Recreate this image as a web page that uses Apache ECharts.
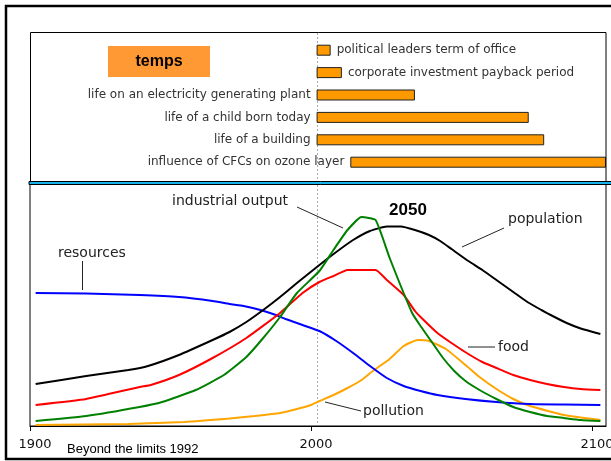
<!DOCTYPE html>
<html>
<head>
<meta charset="utf-8">
<script src="https://cdn.jsdelivr.net/npm/echarts@6/dist/echarts.min.js"></script>
<style>
html, body { margin: 0; padding: 0; background: #fff; }
#main { width: 611px; height: 461px; }
</style>
</head>
<body>
<div id="main"></div>
<script>
// top panel: time horizons (start year, length in years)
var horizonNames = ['political leaders term of office', 'corporate investment payback period',
    'life on an electricity generating plant', 'life of a child born today',
    'life of a building', 'influence of CFCs on ozone layer'];
var horizonStart = [2002, 2002, 2002, 2002, 2002, 2014];
var horizonLength = [5, 9, 35, 75.5, 81, 91];
var horizonLabelSide = ['right', 'right', 'left', 'left', 'left', 'left'];

var todayYear = 2002;
var yearTicks = [1900, 2000, 2100];

// bottom panel: [year, level]
var population = [[1902, 42], [1920, 50], [1935, 56], [1942, 60], [1953, 71], [1965, 86], [1971, 94],
    [1977, 104], [1983, 116], [1989, 129], [1995, 143], [2003, 161], [2009, 174], [2015, 186],
    [2021, 195], [2027, 199.5], [2032, 199.5], [2037, 196], [2042, 191], [2046, 185], [2050, 177],
    [2056, 165], [2061, 156], [2066, 146], [2072, 134], [2077, 124], [2082, 116], [2086, 110],
    [2091, 103], [2096, 97.5], [2103, 92]];
var food = [[1902, 21], [1920, 27], [1939, 39], [1943, 41], [1953, 51], [1965, 68], [1977, 88],
    [1989, 113], [1997, 133], [2003, 144], [2008, 150], [2013, 156], [2023, 156], [2027, 146],
    [2033, 131], [2037, 115], [2039, 109], [2045, 93], [2050, 83], [2056, 72], [2061, 64],
    [2066, 58], [2072, 51], [2078, 46], [2084, 42], [2090, 39], [2096, 37], [2103, 36]];
var industrialOutput = [[1902, 5], [1920, 10], [1939, 19], [1947, 24], [1959, 36], [1969, 51],
    [1977, 69], [1983, 88], [1989, 109], [1995, 133], [2003, 155], [2008, 176], [2013, 196],
    [2018, 209], [2023, 206], [2028, 168], [2036, 113], [2039, 100], [2043, 84], [2047, 68],
    [2051, 55], [2055, 45], [2060, 36], [2066, 27], [2072, 19], [2078, 14], [2084, 10],
    [2090, 8], [2096, 6], [2103, 5]];
var resources = [[1902, 133], [1920, 132.5], [1939, 131], [1953, 129], [1965, 125], [1971, 122],
    [1976, 120], [1982, 116], [1987, 111.5], [1991, 107], [1997, 101], [2003, 95], [2009, 85],
    [2015, 73], [2021, 60], [2027, 48], [2033, 40], [2039, 35], [2045, 31], [2055, 27],
    [2066, 24], [2078, 22], [2090, 21.5], [2103, 21]];
var pollution = [[1902, 1], [1935, 2], [1955, 4], [1971, 7.5], [1980, 10], [1989, 13], [1995, 17],
    [2000, 21], [2003, 25], [2008, 31], [2013, 38], [2018, 46], [2022, 55], [2028, 67],
    [2033, 80], [2038, 86], [2042, 85], [2048, 77], [2055, 61], [2060, 49], [2066, 37],
    [2072, 27], [2078, 20], [2090, 11], [2103, 6]];

// callouts: text position and leader line
var notes = [
    { text: 'resources', x: 58, y: 253, line: [82.5, 261, 82.5, 290] },
    { text: 'industrial output', x: 172, y: 201, line: [297, 207, 343, 228] },
    { text: 'population', x: 508, y: 219, line: [504, 228, 462, 247] },
    { text: 'food', x: 498, y: 347, line: [468, 347, 495, 347] },
    { text: 'pollution', x: 363, y: 411, line: [325, 402, 361, 411] }
];

var chart = echarts.init(document.getElementById('main'));

function lineSeries(name, data, color) {
    return {
        name: name, type: 'line', xAxisIndex: 1, yAxisIndex: 1,
        data: data, showSymbol: false, smooth: 0.15,
        lineStyle: { color: color, width: 2 }, itemStyle: { color: color },
        silent: true
    };
}

var option = {
    animation: false,
    grid: [
        { left: 30, right: 5, top: 39, height: 134.4, outerBoundsMode: 'none' },
        { left: 30, right: 5, top: 184, bottom: 35, outerBoundsMode: 'none',
          show: true, borderColor: '#000', borderWidth: 1 }
    ],
    xAxis: [
        { gridIndex: 0, type: 'value', min: 1900, max: 2105, show: false },
        {
            gridIndex: 1, type: 'value', min: 1900, max: 2105, interval: 100,
            axisLine: { show: true, lineStyle: { color: '#000', width: 1 } },
            axisTick: { show: true, length: 5, customValues: yearTicks, lineStyle: { color: '#000' } },
            axisLabel: {
                customValues: yearTicks, margin: 12, padding: [0, 0, 0, 10],
                color: '#111', fontFamily: 'DejaVu Sans', fontSize: 13,
                formatter: function (v) { return String(v); }
            },
            splitLine: { show: false }
        }
    ],
    yAxis: [
        { gridIndex: 0, type: 'category', data: horizonNames, inverse: true, show: false },
        { gridIndex: 1, type: 'value', min: 0, max: 242, show: false }
    ],
    series: [
        {
            type: 'bar', xAxisIndex: 0, yAxisIndex: 0, stack: 'h', barWidth: 11,
            data: horizonStart, itemStyle: { color: 'transparent' }, silent: true
        },
        {
            type: 'bar', xAxisIndex: 0, yAxisIndex: 0, stack: 'h', barWidth: 11,
            data: horizonLength.map(function (v, i) {
                return { value: v, label: { position: horizonLabelSide[i] } };
            }),
            itemStyle: { color: '#FF9900', borderColor: '#222', borderWidth: 1 },
            label: {
                show: true, formatter: '{b}', distance: 6,
                color: '#333', fontFamily: 'DejaVu Sans', fontSize: 12
            },
            silent: true
        },
        lineSeries('pollution', pollution, '#FFA500'),
        lineSeries('resources', resources, '#0000FF'),
        lineSeries('food', food, '#FF0000'),
        lineSeries('population', population, '#000000'),
        lineSeries('industrial output', industrialOutput, '#008000')
    ]
};
chart.setOption(option);

// marks that sit outside the data: frame, panel box, "today" line, callouts
var todayX = Math.round(chart.convertToPixel({ xAxisIndex: 1 }, todayYear)) + 0.5;
var g = [
    { type: 'rect', shape: { x: 6, y: 6, width: 640, height: 453 },
      style: { fill: 'none', stroke: '#000', lineWidth: 2.5 }, z: 10 },
    { type: 'rect', shape: { x: 30.5, y: 32.5, width: 575.5, height: 150 },
      style: { fill: 'none', stroke: '#000', lineWidth: 1 }, z: 10 },
    { type: 'line', shape: { x1: todayX, y1: 33, x2: todayX, y2: 425 },
      style: { stroke: '#aaa', lineWidth: 1, lineDash: [2, 2] }, z: 1 },
    { type: 'rect', shape: { x: 29, y: 181.5, width: 600, height: 3 },
      style: { fill: '#19B2EC', stroke: '#000', lineWidth: 1 }, z: 20 },
    { type: 'rect', shape: { x: 108, y: 46, width: 102, height: 31 },
      style: { fill: '#FF9933' }, z: 10 },
    { type: 'text', x: 159, y: 61.5, z: 11,
      style: { text: 'temps', fill: '#000', font: 'bold 16px "Liberation Sans", Arial',
               align: 'center', verticalAlign: 'middle' } },
    { type: 'text', x: 408, y: 210, z: 11,
      style: { text: '2050', fill: '#000', font: 'bold 17px "Liberation Sans", Arial',
               align: 'center', verticalAlign: 'middle' } },
    { type: 'text', x: 67, y: 449.5, z: 11,
      style: { text: 'Beyond the limits 1992', fill: '#000', font: '13px "Liberation Sans", Arial',
               align: 'left', verticalAlign: 'middle' } }
];
notes.forEach(function (n) {
    g.push({ type: 'text', x: n.x, y: n.y, z: 11,
        style: { text: n.text, fill: '#222', font: '14px "DejaVu Sans"', align: 'left', verticalAlign: 'middle' } });
    g.push({ type: 'line', z: 11,
        shape: { x1: n.line[0], y1: n.line[1], x2: n.line[2], y2: n.line[3] },
        style: { stroke: '#222', lineWidth: 1 } });
});
chart.setOption({ graphic: g });
</script>
</body>
</html>
